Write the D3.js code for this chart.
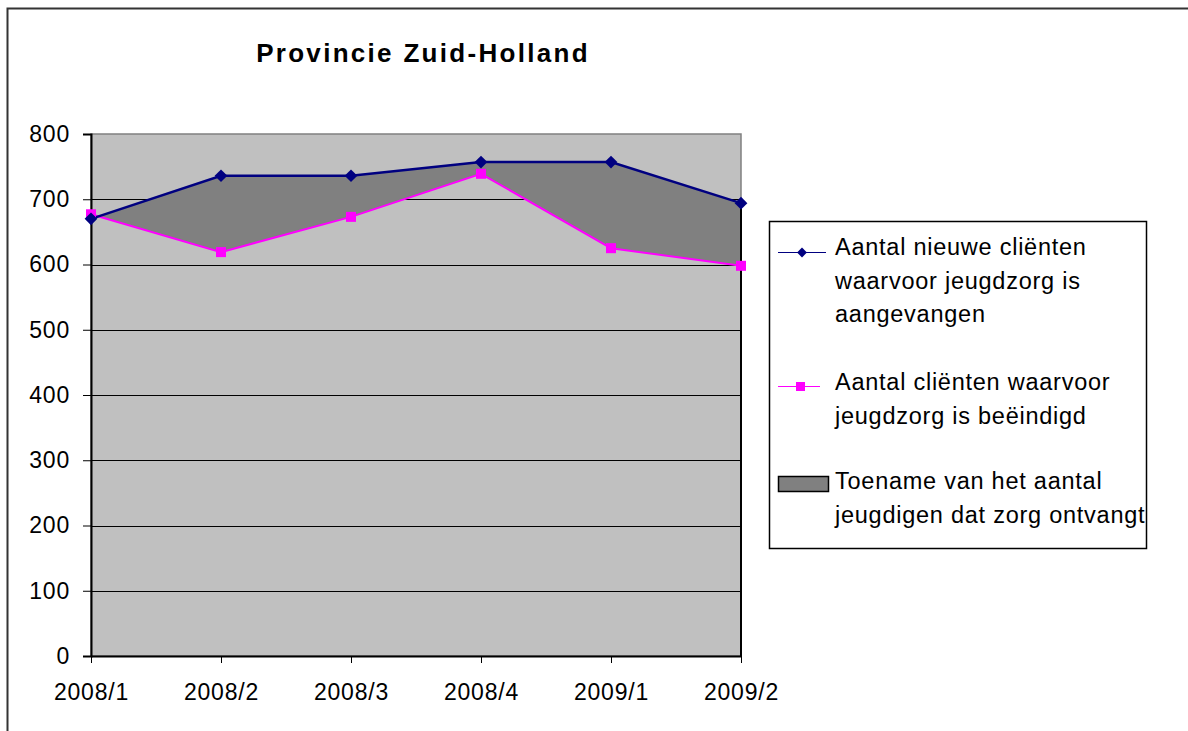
<!DOCTYPE html>
<html>
<head>
<meta charset="utf-8">
<script src="https://cdn.jsdelivr.net/npm/d3@7"></script>
<style>
  html, body { margin: 0; background: #fff; overflow: hidden; }
  svg { display: block; font-family: "Liberation Sans", Arial, sans-serif; }
</style>
</head>
<body>
<div id="grafico"></div>
<script>
// kwartalen
const categories = ["2008/1", "2008/2", "2008/3", "2008/4", "2009/1", "2009/2"];
// Aantal nieuwe cliënten waarvoor jeugdzorg is aangevangen
const nieuw = [670, 736, 736, 757, 757, 694];
// Aantal cliënten waarvoor jeugdzorg is beëindigd
const beeindigd = [677, 619, 673, 739, 625, 598];
const yTicks = [0, 100, 200, 300, 400, 500, 600, 700, 800];
const title = "Provincie Zuid-Holland";
const legendLabels = [
    ["Aantal nieuwe cliënten", "waarvoor jeugdzorg is", "aangevangen"],
    ["Aantal cliënten waarvoor", "jeugdzorg is beëindigd"],
    ["Toename van het aantal", "jeugdigen dat zorg ontvangt"]
];

const width = 1188;
const height = 731;
const plot = { left: 91, right: 741, top: 134, bottom: 656 };

const svg = d3.select("#grafico")
    .append("svg")
    .attr("width", width)
    .attr("height", height);

// rand om de hele grafiek (loopt rechts en onder buiten beeld)
svg.append("path")
    .attr("d", `M7.5,${height} V8.5 H${width}`)
    .attr("fill", "none")
    .attr("stroke", "#333")
    .attr("stroke-width", 2);

const xScale = d3.scalePoint()
    .domain(categories)
    .range([plot.left, plot.right]);

const yScale = d3.scaleLinear()
    .domain([0, 800])
    .range([plot.bottom, plot.top]);

// plotgebied
svg.append("rect")
    .attr("x", plot.left).attr("y", plot.top)
    .attr("width", plot.right - plot.left)
    .attr("height", plot.bottom - plot.top)
    .attr("fill", "#c0c0c0")
    .attr("stroke", "#808080")
    .attr("stroke-width", 1.5);

// rasterlijnen
svg.append("g")
    .selectAll("line")
    .data(yTicks.filter(d => d > 0 && d < 800))
    .enter()
    .append("line")
    .attr("x1", plot.left).attr("x2", plot.right)
    .attr("y1", d => Math.round(yScale(d)) + 0.5)
    .attr("y2", d => Math.round(yScale(d)) + 0.5)
    .attr("stroke", "#000")
    .attr("stroke-width", 1);

// vlak tussen de twee lijnen
const area = d3.area()
    .x((d, i) => xScale(categories[i]))
    .y0((d, i) => yScale(beeindigd[i]))
    .y1(d => yScale(d));

svg.append("path")
    .datum(nieuw)
    .attr("d", area)
    .attr("fill", "#808080");

// zwarte rand rechts onder het vlak
const last = categories.length - 1;
svg.append("line")
    .attr("x1", xScale(categories[last])).attr("x2", xScale(categories[last]))
    .attr("y1", yScale(nieuw[last])).attr("y2", plot.bottom)
    .attr("stroke", "#000")
    .attr("stroke-width", 2);

// assen
const yAxis = d3.axisLeft(yScale)
    .tickValues(yTicks)
    .tickSize(8)
    .tickPadding(13);

const gy = svg.append("g")
    .attr("transform", `translate(${plot.left}, 0)`)
    .call(yAxis);
gy.select(".domain").attr("stroke", "#000").attr("stroke-width", 2);
gy.selectAll(".tick line").attr("stroke", "#000");
gy.selectAll(".tick text")
    .attr("font-size", 23)
    .attr("letter-spacing", 0.8)
    .attr("fill", "#000");

const xAxis = d3.axisBottom(xScale)
    .tickSize(7)
    .tickSizeOuter(0);

const gx = svg.append("g")
    .attr("transform", `translate(0, ${plot.bottom})`)
    .call(xAxis);
gx.select(".domain").attr("stroke", "#000").attr("stroke-width", 2);
gx.selectAll(".tick line").attr("stroke", "#000");
gx.selectAll(".tick text")
    .attr("y", 44)
    .attr("dy", 0)
    .attr("font-size", 23)
    .attr("letter-spacing", 0.8)
    .attr("fill", "#000");

// lijnen
const line = d3.line()
    .x((d, i) => xScale(categories[i]))
    .y(d => yScale(d));

svg.append("path")
    .datum(beeindigd)
    .attr("d", line)
    .attr("fill", "none")
    .attr("stroke", "#ff00ff")
    .attr("stroke-width", 2);

svg.append("path")
    .datum(nieuw)
    .attr("d", line)
    .attr("fill", "none")
    .attr("stroke", "#000080")
    .attr("stroke-width", 2.5);

// markers
svg.append("g")
    .selectAll("rect")
    .data(beeindigd)
    .enter()
    .append("rect")
    .attr("x", (d, i) => xScale(categories[i]) - 5)
    .attr("y", d => yScale(d) - 5)
    .attr("width", 10)
    .attr("height", 10)
    .attr("fill", "#ff00ff");

svg.append("g")
    .selectAll("rect")
    .data(nieuw)
    .enter()
    .append("rect")
    .attr("x", -4.5).attr("y", -4.5)
    .attr("width", 9).attr("height", 9)
    .attr("transform", (d, i) => `translate(${xScale(categories[i])}, ${yScale(d)}) rotate(45)`)
    .attr("fill", "#000080");

// titel
svg.append("text")
    .attr("x", 423)
    .attr("y", 62)
    .attr("text-anchor", "middle")
    .attr("font-size", 26)
    .attr("font-weight", "bold")
    .attr("letter-spacing", 2.3)
    .text(title);

// legenda
const legend = svg.append("g");
legend.append("rect")
    .attr("x", 769.5).attr("y", 221.5)
    .attr("width", 377).attr("height", 327)
    .attr("fill", "#fff")
    .attr("stroke", "#000")
    .attr("stroke-width", 1.5);

const legendTop = [255, 390, 489];
legendLabels.forEach((lines, k) => {
    legend.append("text")
        .attr("font-size", 23.5)
        .attr("letter-spacing", 0.75)
        .selectAll("tspan")
        .data(lines)
        .enter()
        .append("tspan")
        .attr("x", 835)
        .attr("y", (d, j) => legendTop[k] + j * 33.5)
        .text(d => d);
});

legend.append("line")
    .attr("x1", 778).attr("x2", 826)
    .attr("y1", 252.5).attr("y2", 252.5)
    .attr("stroke", "#000080").attr("stroke-width", 1);
legend.append("rect")
    .attr("x", -3.5).attr("y", -3.5)
    .attr("width", 7).attr("height", 7)
    .attr("transform", "translate(802, 252.5) rotate(45)")
    .attr("fill", "#000080");

legend.append("line")
    .attr("x1", 778).attr("x2", 820)
    .attr("y1", 386.5).attr("y2", 386.5)
    .attr("stroke", "#ff00ff").attr("stroke-width", 1);
legend.append("rect")
    .attr("x", 796).attr("y", 382)
    .attr("width", 9).attr("height", 9)
    .attr("fill", "#ff00ff");

legend.append("rect")
    .attr("x", 778.5).attr("y", 476.5)
    .attr("width", 50).attr("height", 15)
    .attr("fill", "#808080")
    .attr("stroke", "#000")
    .attr("stroke-width", 1.5);
</script>
</body>
</html>
